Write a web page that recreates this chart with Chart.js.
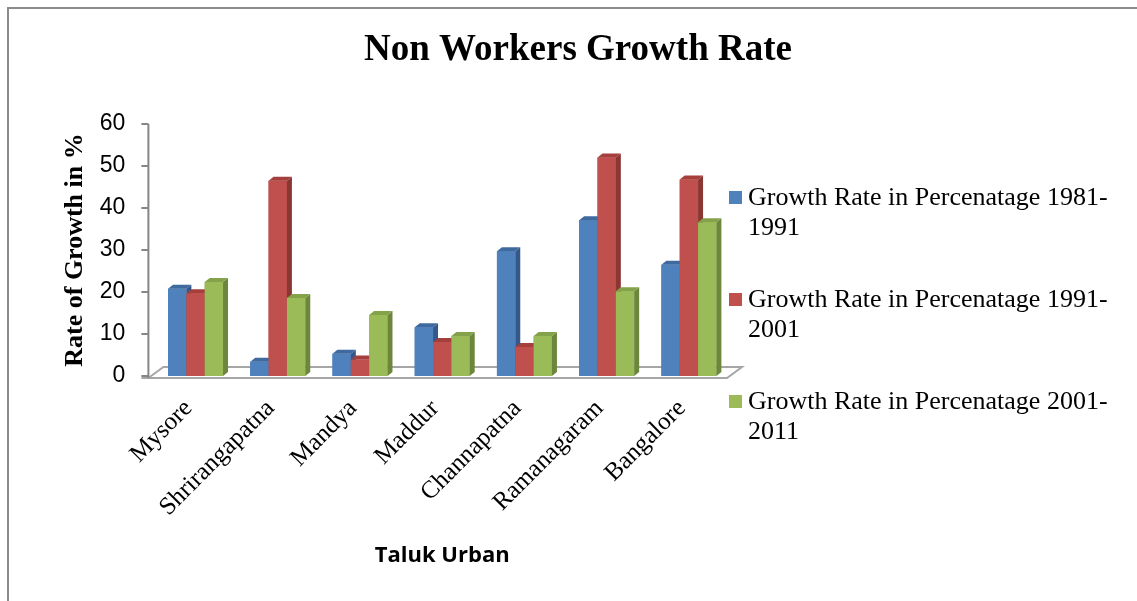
<!DOCTYPE html>
<html>
<head>
<meta charset="utf-8">
<title>Non Workers Growth Rate</title>
<script src="https://cdn.jsdelivr.net/npm/chart.js@4.4.0/dist/chart.umd.min.js"></script>
<style>
  html, body { margin: 0; padding: 0; background: #fff; }
</style>
</head>
<body>
<canvas id="canvas1" width="1137" height="601"></canvas>
<script>
// taluk towns on the x axis
var taluks = ['Mysore', 'Shrirangapatna', 'Mandya', 'Maddur', 'Channapatna', 'Ramanagaram', 'Bangalore'];

// growth rate of non workers (%) for each decade
var rate8191 = [20.8, 3.4, 5.3, 11.6, 29.7, 37.1, 26.5];
var rate9101 = [19.7, 46.5, 3.9, 8.1, 6.9, 52.0, 46.8];
var rate0111 = [22.4, 18.6, 14.5, 9.5, 9.5, 20.2, 36.6];

var seriesNames = [
  'Growth Rate in Percenatage 1981-1991',
  'Growth Rate in Percenatage 1991-2001',
  'Growth Rate in Percenatage 2001-2011'
];

var yTicks = [0, 10, 20, 30, 40, 50, 60];

// front, side and top colours of the bars
var fronts = ['#4F81BD', '#C0504D', '#9BBB59'];
var sides = ['#34588A', '#8A3633', '#6C863B'];
var tops = ['#3F6AA0', '#A43F3C', '#84A24A'];

var DX = 5, DY = 4;

// split a legend label after spaces or hyphens so it fits in maxW
function wrapText(ctx, text, maxW) {
  var parts = text.match(/[^ -]+[ -]?/g);
  var lines = [], cur = '';
  parts.forEach(function (p) {
    if (cur && ctx.measureText((cur + p).trim()).width > maxW) {
      lines.push(cur.trim());
      cur = p;
    } else {
      cur += p;
    }
  });
  if (cur) lines.push(cur.trim());
  return lines;
}

var threeD = {
  id: 'threeD',
  beforeDraw: function (chart) {
    var ctx = chart.ctx;
    // outer frame
    ctx.save();
    ctx.strokeStyle = '#8c8c8c';
    ctx.lineWidth = 2;
    ctx.beginPath();
    ctx.moveTo(8, chart.height + 2);
    ctx.lineTo(8, 8);
    ctx.lineTo(chart.width + 2, 8);
    ctx.stroke();
    ctx.restore();
  },
  beforeDatasetsDraw: function (chart) {
    var ctx = chart.ctx, a = chart.chartArea, ys = chart.scales.y;
    var ax = a.left - 6, fy = a.bottom + 2;
    ctx.save();
    // floor
    ctx.strokeStyle = '#a6a6a6';
    ctx.lineWidth = 2;
    ctx.beginPath();
    ctx.moveTo(ax - 7, fy);
    ctx.lineTo(a.right - 3, fy);
    ctx.lineTo(a.right + 12, a.bottom - 9);
    ctx.lineTo(a.left + 9, a.bottom - 9);
    ctx.lineTo(ax, fy);
    ctx.stroke();
    // value axis
    ctx.strokeStyle = '#868686';
    ctx.beginPath();
    ctx.moveTo(ax, a.top);
    ctx.lineTo(ax, fy);
    yTicks.forEach(function (v) {
      var py = ys.getPixelForValue(v);
      ctx.moveTo(ax - 7, py);
      ctx.lineTo(ax, py);
    });
    ctx.stroke();
    ctx.restore();
  },
  afterDatasetsDraw: function (chart) {
    var ctx = chart.ctx;
    ctx.save();
    // redraw in series order so each bar hides the side of the one to its left
    chart.data.datasets.forEach(function (ds, di) {
      chart.getDatasetMeta(di).data.forEach(function (bar) {
        var p = bar.getProps(['x', 'y', 'base', 'width'], true);
        var xl = p.x - p.width / 2, xr = p.x + p.width / 2;
        bar.draw(ctx);
        ctx.fillStyle = sides[di];
        ctx.beginPath();
        ctx.moveTo(xr, p.y);
        ctx.lineTo(xr + DX, p.y - DY);
        ctx.lineTo(xr + DX, p.base - DY);
        ctx.lineTo(xr, p.base);
        ctx.closePath();
        ctx.fill();
        ctx.fillStyle = tops[di];
        ctx.beginPath();
        ctx.moveTo(xl, p.y);
        ctx.lineTo(xl + DX, p.y - DY);
        ctx.lineTo(xr + DX, p.y - DY);
        ctx.lineTo(xr, p.y);
        ctx.closePath();
        ctx.fill();
      });
    });
    ctx.restore();
  },
  afterDraw: function (chart) {
    var ctx = chart.ctx, a = chart.chartArea;
    var mx = a.right - 1, tx = a.right + 18;
    ctx.save();
    ctx.font = '26px "Liberation Serif"';
    ctx.textBaseline = 'alphabetic';
    ctx.fillStyle = '#000';
    chart.data.datasets.forEach(function (ds, i) {
      var base = 205 + i * 102;
      ctx.fillStyle = fronts[i];
      ctx.fillRect(mx, base - 14, 13, 13);
      ctx.fillStyle = '#000';
      wrapText(ctx, ds.label, chart.width - tx - 12).forEach(function (line, k) {
        ctx.fillText(line, tx, base + k * 30);
      });
    });
    ctx.restore();
  }
};

new Chart(document.getElementById('canvas1'), {
  type: 'bar',
  data: {
    labels: taluks,
    datasets: [
      { label: seriesNames[0], data: rate8191, backgroundColor: fronts[0] },
      { label: seriesNames[1], data: rate9101, backgroundColor: fronts[1] },
      { label: seriesNames[2], data: rate0111, backgroundColor: fronts[2] }
    ]
  },
  options: {
    responsive: false,
    animation: false,
    layout: { padding: { left: 19 } },
    datasets: {
      bar: { categoryPercentage: 0.669, barPercentage: 1, borderWidth: 0 }
    },
    plugins: {
      legend: { display: false },
      tooltip: { enabled: false },
      title: {
        display: true,
        text: 'Non Workers Growth Rate',
        color: '#000',
        font: { family: 'Liberation Serif', size: 37, weight: 'bold' },
        padding: { top: 28, bottom: 51.6 }
      }
    },
    scales: {
      x: {
        grid: { display: false, drawTicks: false },
        border: { display: false },
        ticks: {
          color: '#000',
          font: { family: 'Liberation Serif', size: 25 },
          minRotation: 45,
          maxRotation: 45,
          padding: 18,
          labelOffset: -7
        },
        title: {
          display: true,
          text: 'Taluk Urban',
          color: '#000',
          font: { family: 'Open Sans', size: 22, weight: 'bold' },
          padding: { top: 0, bottom: 32 }
        },
        afterFit: function (s) { s.height = 225; }
      },
      y: {
        min: 0,
        max: 60,
        grid: { display: false, drawTicks: false },
        border: { display: false },
        afterBuildTicks: function (s) {
          s.ticks = yTicks.map(function (v) { return { value: v }; });
        },
        ticks: {
          color: '#000',
          font: { family: 'Liberation Sans', size: 23 },
          padding: 29
        },
        title: {
          display: true,
          text: 'Rate of Growth in %',
          color: '#000',
          font: { family: 'Liberation Serif', size: 26, weight: 'bold' },
          padding: { top: 41, bottom: 0 }
        },
        afterFit: function (s) { s.width = 135.4; }
      },
      legendSpace: {
        type: 'linear',
        axis: 'y',
        position: 'right',
        grid: { display: false },
        border: { display: false },
        ticks: { display: false },
        afterFit: function (s) { s.width = 407; }
      }
    }
  },
  plugins: [threeD]
});
</script>
</body>
</html>
